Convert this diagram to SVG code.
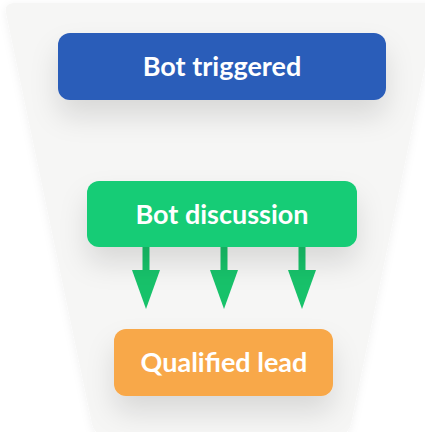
<svg xmlns="http://www.w3.org/2000/svg" width="425" height="432" viewBox="0 0 425 432">
<defs>
<style>
.lbl{font-family:Lato,"Liberation Sans",sans-serif;font-weight:700;font-size:27px;fill:#ffffff;text-anchor:middle}
.arrow{fill:#17c26a}
</style>
<filter id="fsh" x="-10%" y="-10%" width="120%" height="120%">
<feDropShadow dx="0" dy="2" stdDeviation="4" flood-color="#000" flood-opacity="0.06"/>
</filter>
<filter id="bsh" x="-30%" y="-50%" width="160%" height="250%">
<feDropShadow dx="0" dy="16" stdDeviation="14" flood-color="#000" flood-opacity="0.12"/>
</filter>
</defs>
<rect width="425" height="432" fill="#ffffff"/>
<path id="funnel" d="M15,3 L428,3 Q438,3 436,13 L351,424 Q349,434 339,434 L104,434 Q94,434 92,424 L6,13 Q4,3 15,3 Z" fill="#f6f6f5" filter="url(#fsh)"/>
<g id="connectors">
<rect class="arrow" x="142.5" y="246" width="7" height="26"/>
<polygon class="arrow" points="132,270 160,270 146,309"/>
<rect class="arrow" x="220.5" y="246" width="7" height="26"/>
<polygon class="arrow" points="210,270 238,270 224,309"/>
<rect class="arrow" x="298.5" y="246" width="7" height="26"/>
<polygon class="arrow" points="288,270 316,270 302,309"/>
</g>
<g id="bot-triggered">
<rect x="58" y="33" width="328" height="67" rx="12" fill="#2b5db9" filter="url(#bsh)"/>
<text class="lbl" x="222" y="76">Bot triggered</text>
</g>
<g id="bot-discussion">
<rect x="87" y="181" width="270" height="66" rx="12" fill="#16cc76" filter="url(#bsh)"/>
<text class="lbl" x="222" y="224">Bot discussion</text>
</g>
<g id="qualified-lead">
<rect x="114" y="329" width="219" height="67" rx="12" fill="#f8a84a" filter="url(#bsh)"/>
<text class="lbl" x="224" y="372">Qualified lead</text>
</g>
</svg>
